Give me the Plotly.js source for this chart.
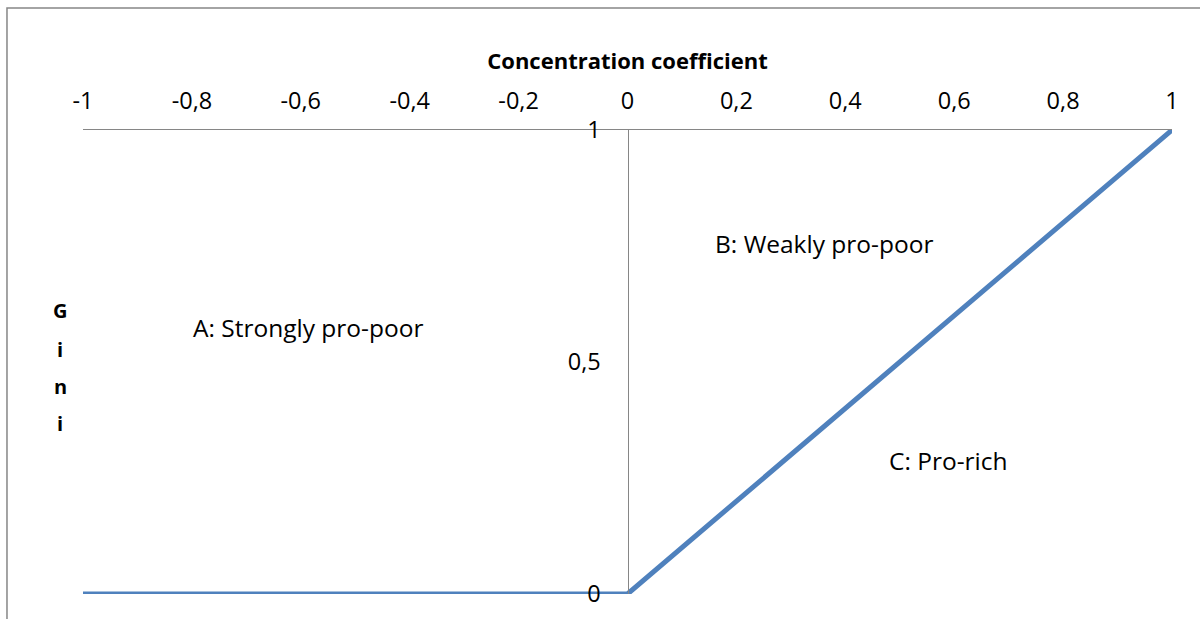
<!DOCTYPE html>
<html>
<head>
<meta charset="utf-8">
<script src="https://cdn.plot.ly/plotly-3.0.1.min.js"></script>
<style>html,body{margin:0;padding:0;background:#fff;}#chart{width:1200px;height:619px;}</style>
</head>
<body>
<div id="chart"></div>
<script>
const concentration = [-1, 0, 1];
const gini = [0, 0, 1];
const xTickVals = [-1, -0.8, -0.6, -0.4, -0.2, 0, 0.2, 0.4, 0.6, 0.8, 1];
const xTickText = ["-1", "-0,8", "-0,6", "-0,4", "-0,2", "0", "0,2", "0,4", "0,6", "0,8", "1"];
const yTickVals = [0, 0.5, 1];
const yTickText = ["0", "0,5", "1"];
const regionLabels = ["A: Strongly pro-poor", "B: Weakly pro-poor", "C: Pro-rich"];
const regionX = [-0.586, 0.36, 0.59];
const regionY = [0.575, 0.756, 0.287];
const yTitleLetters = ["G", "i", "n", "i"];

const FONT = "'Open Sans', sans-serif";
const annotations = regionLabels.map((t, i) => ({
  text: t, x: regionX[i], y: regionY[i], xref: 'x', yref: 'y',
  xanchor: 'center', yanchor: 'middle',
  showarrow: false, font: {family: FONT, size: 24.5, color: '#000'}
}));
const letterY = [0.610, 0.528, 0.447, 0.367];
yTitleLetters.forEach((l, i) => annotations.push({
  text: '<b>' + l + '</b>', xref: 'paper', yref: 'paper',
  x: -0.021, y: letterY[i], xanchor: 'center', yanchor: 'middle', showarrow: false,
  font: {family: FONT, size: 20, color: '#000'}
}));

const data = [{
  x: concentration, y: gini, type: 'scatter', mode: 'lines',
  line: {color: '#4f81bd', width: 5}, cliponaxis: false, hoverinfo: 'none'
}];

const layout = {
  width: 1200, height: 619,
  margin: {l: 83, r: 28, t: 130, b: 25},
  paper_bgcolor: '#fff', plot_bgcolor: '#fff',
  showlegend: false,
  font: {family: FONT, size: 20, color: '#000'},
  xaxis: {
    range: [-1, 1], side: 'top', tickmode: 'array',
    tickvals: xTickVals, ticktext: xTickText,
    showgrid: false, zeroline: false,
    showline: true, linecolor: '#868686', linewidth: 1.5,
    ticks: '', ticklabelstandoff: 10,
    tickfont: {family: FONT, size: 23.5, color: '#000'},
    title: {text: '<b>Concentration coefficient</b>', font: {family: FONT, size: 22, color: '#000'}, standoff: 8}
  },
  yaxis: {
    range: [0, 1], anchor: 'free', position: 0.5, tickmode: 'array',
    tickvals: yTickVals, ticktext: yTickText,
    showgrid: false, zeroline: false,
    showline: true, linecolor: '#868686', linewidth: 1.5,
    ticks: '', ticklabelstandoff: 22,
    tickfont: {family: FONT, size: 23.5, color: '#000'}
  },
  annotations: annotations,
  shapes: [{
    type: 'rect', xref: 'paper', yref: 'paper',
    x0: -0.0698, x1: 1.2, y0: -0.2, y1: 1.263,
    line: {color: '#878787', width: 1.5}, layer: 'below'
  }]
};
Plotly.newPlot('chart', data, layout, {displayModeBar: false, staticPlot: true});
</script>
</body>
</html>
